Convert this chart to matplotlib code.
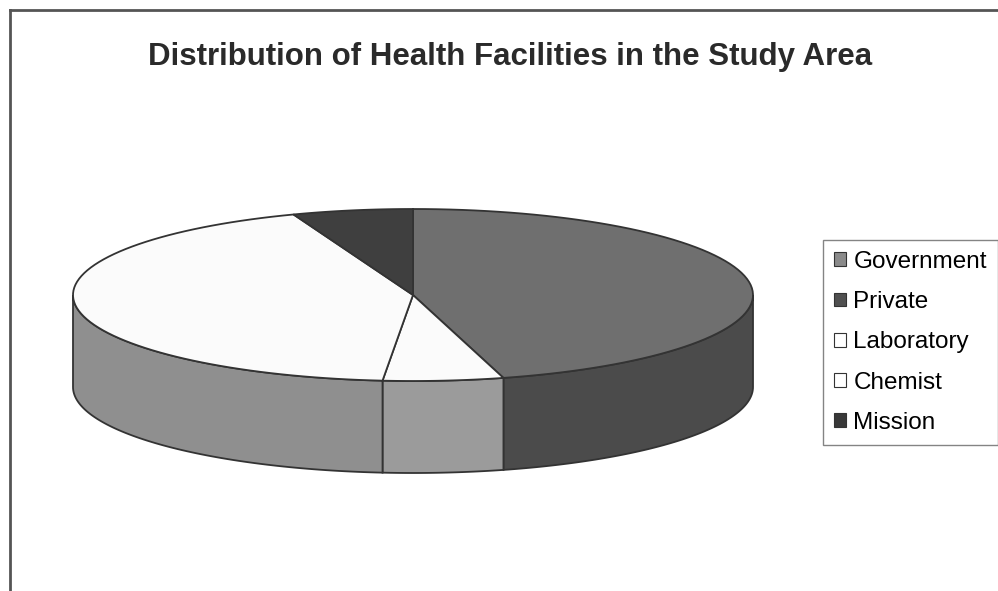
import numpy as np
import matplotlib.pyplot as plt
from matplotlib.patches import Polygon, Patch

# facility counts (Government shows in legend only, no visible slice)
categories = ['Government', 'Private', 'Laboratory', 'Chemist', 'Mission']
counts = [0, 16, 2, 15, 2]
title = "Distribution of Health Facilities in the Study Area"

top_colors = ['#8c8c8c', '#6f6f6f', '#fbfbfb', '#fbfbfb', '#3f3f3f']
side_colors = ['#6a6a6a', '#4b4b4b', '#9b9b9b', '#8f8f8f', '#2a2a2a']
legend_colors = ['#8a8a8a', '#505050', '#ffffff', '#ffffff', '#383838']

# pie geometry in pixels
cx, cy, rx, ry, depth = 413, 295, 340, 86, 92
edge = '#333333'


def arc(a, b, dy=0, n=80):
    t = np.radians(np.linspace(a, b, n))
    return np.column_stack([cx + rx * np.sin(t), cy - ry * np.cos(t) + dy])


fig = plt.figure(figsize=(9.98, 5.91), dpi=100)
ax = fig.add_axes([0, 0, 1, 1])
ax.set_xlim(0, 998)
ax.set_ylim(591, 0)
ax.axis('off')

total = sum(counts)
angles = np.cumsum([0] + counts) / total * 360

# side walls (front half only)
for i in range(len(counts)):
    a, b = max(angles[i], 90), min(angles[i + 1], 270)
    if b <= a:
        continue
    pts = np.vstack([arc(a, b), arc(b, a, depth)])
    ax.add_patch(Polygon(pts, closed=True, facecolor=side_colors[i],
                         edgecolor=edge, lw=1.3))

# top faces
for i in range(len(counts)):
    a, b = angles[i], angles[i + 1]
    if b <= a:
        continue
    pts = np.vstack([[cx, cy], arc(a, b)])
    ax.add_patch(Polygon(pts, closed=True, facecolor=top_colors[i],
                         edgecolor=edge, lw=1.3))

ax.text(510, 57, title, ha='center', va='center', fontsize=22.5,
        fontweight='bold', family='Liberation Sans', color='#2a2a2a')

# outer chart frame
ax.plot([10, 998], [10, 10], color='#555555', lw=2)
ax.plot([10, 10], [10, 591], color='#555555', lw=2)

handles = [Patch(facecolor=c, edgecolor='#333333', lw=0.8) for c in legend_colors]
leg = ax.legend(handles, categories, loc='upper left', bbox_to_anchor=(823, 240),
                bbox_transform=ax.transData, frameon=True,
                fancybox=False, handlelength=0.5, handleheight=0.5,
                handletextpad=0.3, labelspacing=0.75, borderpad=0.45,
                borderaxespad=0, prop={'family': 'Liberation Sans', 'size': 17.5})
leg.get_frame().set_edgecolor('#666666')
leg.get_frame().set_linewidth(1.0)

fig.savefig('out.png', dpi=100, facecolor='white')
